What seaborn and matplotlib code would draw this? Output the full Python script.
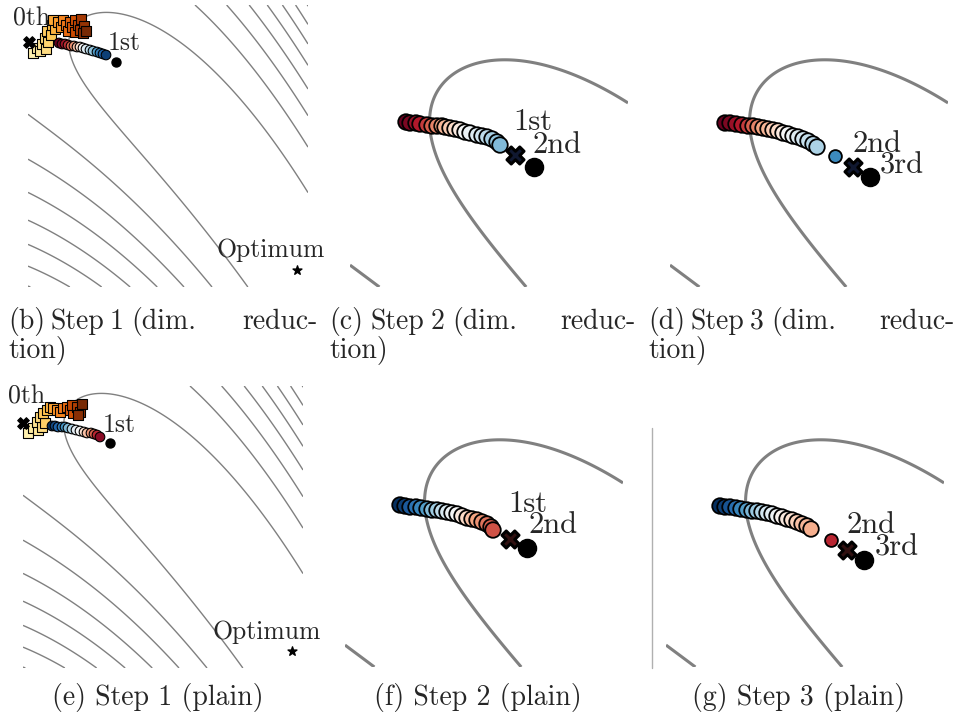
import numpy as np
import matplotlib
matplotlib.use("Agg")
import matplotlib.pyplot as plt
import seaborn as sns
from matplotlib.lines import Line2D

sns.set_style("white")
plt.rcParams["font.family"] = ["cmr10", "DejaVu Serif"]
plt.rcParams["axes.formatter.use_mathtext"] = True

W, H = 956, 719

# ---- objective: curved (banana) valley through the optimum ----
OPT = (2.69, 0.17)
LEVELS = [0.84, 1.88, 2.84, 3.81, 4.79, 5.77, 6.75, 7.73, 8.71, 9.69]


def objective(X, Y):
    valley = 1.93 - 0.821 * (X - 1.22) - 0.242 * (X - 1.22) ** 2
    return ((X - OPT[0]) / 2.49) ** 2 + (Y - valley) ** 2


# ---- step 1 data (dim. reduction) ----
b_sq_x = [0.05, 0.09, 0.12, 0.14, 0.18, 0.17, 0.20, 0.19, 0.23, 0.24, 0.27, 0.25, 0.30, 0.33,
          0.35, 0.38, 0.40, 0.42, 0.44, 0.47, 0.47, 0.50, 0.52, 0.53, 0.56, 0.55, 0.58]
b_sq_y = [2.34, 2.39, 2.36, 2.43, 2.38, 2.49, 2.45, 2.56, 2.52, 2.62, 2.58, 2.67, 2.65, 2.60,
          2.67, 2.62, 2.56, 2.65, 2.60, 2.67, 2.55, 2.62, 2.57, 2.68, 2.61, 2.54, 2.56]
b_sq_c = [0.05, 0.10, 0.12, 0.15, 0.18, 0.20, 0.22, 0.25, 0.28, 0.30, 0.35, 0.38, 0.42, 0.45,
          0.50, 0.55, 0.60, 0.62, 0.66, 0.70, 0.72, 0.75, 0.80, 0.83, 0.87, 0.90, 0.95]
b_x = [0.31, 0.34, 0.37, 0.40, 0.43, 0.46, 0.49, 0.52, 0.55, 0.58, 0.62, 0.65, 0.69, 0.72, 0.75, 0.78]
b_y = [2.44, 2.43, 2.43, 2.42, 2.41, 2.41, 2.40, 2.40, 2.39, 2.38, 2.37, 2.36, 2.35, 2.34, 2.33, 2.32]
b_c = [0.0, 0.03, 0.08, 0.13, 0.20, 0.27, 0.35, 0.42, 0.50, 0.57, 0.63, 0.70, 0.78, 0.85, 0.90, 0.97]
b_prev = (0.01, 2.45)
b_best = (0.88, 2.25)

# ---- step 1 data (plain) ----
e_sq_x = [0.05, 0.10, 0.15, 0.14, 0.19, 0.17, 0.22, 0.20, 0.24, 0.27, 0.30, 0.34, 0.37, 0.40,
          0.44, 0.47, 0.50, 0.49, 0.54, 0.57, 0.55, 0.59]
e_sq_y = [2.35, 2.40, 2.38, 2.46, 2.41, 2.51, 2.45, 2.55, 2.58, 2.61, 2.60, 2.58, 2.56, 2.60,
          2.61, 2.58, 2.55, 2.63, 2.61, 2.56, 2.53, 2.64]
e_sq_c = [0.05, 0.10, 0.12, 0.15, 0.18, 0.20, 0.24, 0.27, 0.30, 0.35, 0.40, 0.45, 0.50, 0.55,
          0.60, 0.65, 0.70, 0.75, 0.80, 0.85, 0.90, 0.95]
e_x = [0.29, 0.32, 0.35, 0.39, 0.42, 0.45, 0.49, 0.53, 0.57, 0.61, 0.64, 0.68, 0.71, 0.74, 0.77]
e_y = [2.42, 2.42, 2.41, 2.41, 2.41, 2.40, 2.39, 2.38, 2.37, 2.36, 2.35, 2.35, 2.34, 2.33, 2.31]
e_c = [1.0, 0.95, 0.90, 0.85, 0.80, 0.72, 0.65, 0.55, 0.50, 0.42, 0.35, 0.28, 0.20, 0.12, 0.05]
e_prev = (0.00, 2.45)
e_best = (0.87, 2.25)

# ---- step 2 / 3 data ----
c_x = [0.29, 0.31, 0.34, 0.36, 0.395, 0.42, 0.445, 0.47, 0.485, 0.51, 0.535, 0.56, 0.585, 0.61,
       0.645, 0.67, 0.695, 0.72, 0.745, 0.76]
c_y = [2.435, 2.43, 2.43, 2.425, 2.42, 2.415, 2.415, 2.415, 2.41, 2.405, 2.40, 2.395, 2.385, 2.38,
       2.37, 2.365, 2.36, 2.35, 2.335, 2.32]
c_c = [0.0, 0.03, 0.07, 0.10, 0.15, 0.20, 0.25, 0.30, 0.33, 0.37, 0.40, 0.45, 0.50, 0.53,
       0.57, 0.60, 0.63, 0.67, 0.70, 0.72]
c_prev = (0.835, 2.27)
c_best = (0.93, 2.21)

d_x = [0.285, 0.31, 0.34, 0.37, 0.40, 0.425, 0.45, 0.475, 0.50, 0.525, 0.55, 0.575, 0.60, 0.625,
       0.65, 0.675, 0.70, 0.725, 0.745]
d_y = [2.43, 2.43, 2.425, 2.42, 2.415, 2.415, 2.41, 2.405, 2.40, 2.395, 2.39, 2.38, 2.375, 2.365,
       2.36, 2.35, 2.34, 2.325, 2.31]
d_c = [0.0, 0.03, 0.07, 0.10, 0.15, 0.20, 0.25, 0.30, 0.33, 0.37, 0.40, 0.45, 0.50, 0.53,
       0.57, 0.60, 0.62, 0.64, 0.66]
d_extra = (0.835, 2.265, 0.82)
d_prev = (0.925, 2.21)
d_best = (1.01, 2.16)

f_x = [0.285, 0.31, 0.335, 0.365, 0.39, 0.42, 0.445, 0.47, 0.495, 0.52, 0.545, 0.57, 0.595, 0.62,
       0.645, 0.67, 0.695, 0.72, 0.74, 0.75]
f_y = [2.42, 2.415, 2.41, 2.41, 2.405, 2.40, 2.395, 2.395, 2.39, 2.385, 2.38, 2.375, 2.365, 2.355,
       2.35, 2.345, 2.335, 2.325, 2.31, 2.295]
f_c = [1.0, 0.97, 0.92, 0.87, 0.83, 0.78, 0.72, 0.68, 0.63, 0.58, 0.53, 0.50, 0.45, 0.40,
       0.35, 0.30, 0.27, 0.23, 0.20, 0.18]
f_prev = (0.835, 2.25)
f_best = (0.92, 2.205)

g_x = [0.28, 0.305, 0.33, 0.36, 0.385, 0.415, 0.44, 0.465, 0.49, 0.515, 0.54, 0.565, 0.59, 0.615,
       0.64, 0.665, 0.69, 0.715, 0.735]
g_y = [2.415, 2.41, 2.41, 2.405, 2.40, 2.395, 2.39, 2.39, 2.385, 2.38, 2.375, 2.365, 2.36, 2.35,
       2.345, 2.335, 2.325, 2.315, 2.30]
g_c = [1.0, 0.97, 0.93, 0.88, 0.83, 0.78, 0.73, 0.69, 0.65, 0.60, 0.56, 0.52, 0.48, 0.45,
       0.42, 0.38, 0.35, 0.33, 0.32]
g_extra = (0.835, 2.245, 0.12)
g_prev = (0.915, 2.195)
g_best = (1.00, 2.145)

FULL = ((0.0, 2.8), (0.0, 2.82))
ZOOM = ((0.01, 1.40), (1.61, 3.02))

fig = plt.figure(figsize=(W / 100, H / 100), dpi=100)


def add_panel(x0, y0, x1, y1, lims, lw):
    ax = fig.add_axes([x0 / W, 1 - y1 / H, (x1 - x0) / W, (y1 - y0) / H])
    gx = np.linspace(lims[0][0], lims[0][1], 500)
    gy = np.linspace(lims[1][0], lims[1][1], 500)
    GX, GY = np.meshgrid(gx, gy)
    ax.contour(GX, GY, objective(GX, GY), levels=LEVELS, colors="#808080", linewidths=lw)
    ax.set_xlim(*lims[0])
    ax.set_ylim(*lims[1])
    ax.set_axis_off()
    return ax


def dots(ax, x, y, c, s, lw, pal="RdBu", marker="o", z=3):
    sns.scatterplot(x=x, y=y, hue=c, palette=pal, hue_norm=(0, 1), s=s, marker=marker,
                    edgecolor="black", linewidth=lw, legend=False, ax=ax, zorder=z, clip_on=False)


def step1(ax, sx, sy, sc, cx, cy, cc, prev, best, labels):
    dots(ax, sx, sy, [0.12 + 0.88 * v for v in sc], 42, 0.8, pal="YlOrBr", marker="s", z=3)
    dots(ax, cx, cy, cc, 48, 0.8, z=4)
    ax.scatter([best[0]], [best[1]], s=42, color="black", zorder=5, clip_on=False)
    ax.scatter([prev[0]], [prev[1]], s=70, marker="X", color="black", edgecolor="black",
               linewidth=0.8, zorder=6, clip_on=False)
    ax.scatter([OPT[0]], [OPT[1]], s=45, marker="*", color="black", zorder=5, clip_on=False)
    for (tx, ty, t) in labels:
        ax.text(tx, ty, t, fontsize=18.5, ha="left", va="baseline")


def stepz(ax, cx, cy, cc, extra, prev, best, face, labels):
    dots(ax, cx, cy, cc, 125, 1.3, z=4)
    if extra is not None:
        dots(ax, [extra[0]], [extra[1]], [extra[2]], 85, 1.3, z=4)
    ax.scatter([best[0]], [best[1]], s=170, color="black", zorder=5, clip_on=False)
    ax.scatter([prev[0]], [prev[1]], s=150, marker="X", color=face, edgecolor="black",
               linewidth=2.2, zorder=6, clip_on=False)
    for (tx, ty, t) in labels:
        ax.text(tx, ty, t, fontsize=22, ha="left", va="baseline")


ax = add_panel(28, 5, 308, 287, FULL, 1.0)
step1(ax, b_sq_x, b_sq_y, b_sq_c, b_x, b_y, b_c, b_prev, b_best,
      [(-0.15, 2.62, "0th"), (0.80, 2.37, "1st"), (1.89, 0.30, "Optimum")])
ax = add_panel(350, 5, 628, 287, ZOOM, 2.2)
stepz(ax, c_x, c_y, c_c, None, c_prev, c_best, "#101830",
      [(0.825, 2.395, "1st"), (0.925, 2.28, "2nd")])
ax = add_panel(670, 5, 948, 287, ZOOM, 2.2)
stepz(ax, d_x, d_y, d_c, d_extra, d_prev, d_best, "#101830",
      [(0.92, 2.285, "2nd"), (1.06, 2.18, "3rd")])

ax = add_panel(23, 386, 303, 668, FULL, 1.0)
step1(ax, e_sq_x, e_sq_y, e_sq_c, e_x, e_y, e_c, e_prev, e_best,
      [(-0.15, 2.65, "0th"), (0.80, 2.36, "1st"), (1.89, 0.29, "Optimum")])
ax = add_panel(345, 385, 623, 667, ZOOM, 2.2)
stepz(ax, f_x, f_y, f_c, None, f_prev, f_best, "#301010",
      [(0.825, 2.385, "1st"), (0.925, 2.28, "2nd")])
ax = add_panel(666, 385, 944, 667, ZOOM, 2.2)
stepz(ax, g_x, g_y, g_c, g_extra, g_prev, g_best, "#301010",
      [(0.915, 2.28, "2nd"), (1.055, 2.17, "3rd")])

fig.add_artist(Line2D([652 / W, 652 / W], [1 - 668 / H, 1 - 428 / H], color="#b0b0b0", lw=1.0))

# ---- captions ----
CAP = 20


def ftext(x, y, s, ha="left"):
    fig.text(x / W, 1 - y / H, s, fontsize=CAP, ha=ha, va="baseline")


for (lab, num, x0, xs, xn, xd, xr) in [("(b)", "1", 8, 50, 110, 131, 318),
                                         ("(c)", "2", 329, 371, 431, 452, 636),
                                         ("(d)", "3", 648, 690, 750, 771, 955)]:
    ftext(x0, 329, lab)
    ftext(xs, 329, "Step")
    ftext(xn, 329, num)
    ftext(xd, 329, "(dim.")
    ftext(xr, 329, "reduc-", ha="right")
    ftext(x0, 358, "tion)")

ftext(158, 705, "(e) Step 1 (plain)", ha="center")
ftext(478, 705, "(f) Step 2 (plain)", ha="center")
ftext(799, 705, "(g) Step 3 (plain)", ha="center")

fig.savefig("out.png", dpi=100)
